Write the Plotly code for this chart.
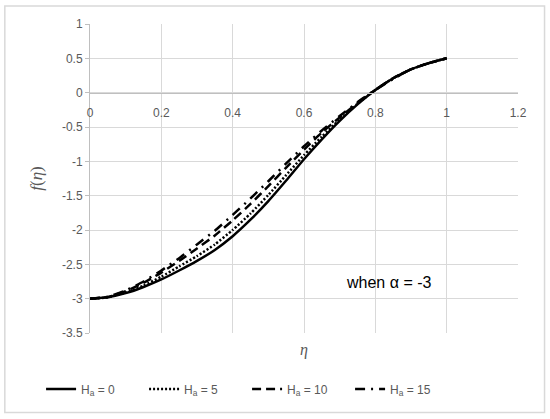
import plotly.graph_objects as go

# --- data (f(eta) for alpha = -3) ---
eta = [0.00, 0.05, 0.10, 0.15, 0.20, 0.25, 0.30, 0.35, 0.40, 0.45, 0.50,
       0.55, 0.60, 0.65, 0.70, 0.75, 0.80, 0.85, 0.90, 0.95, 1.00]

f_ha0 = [-3.00, -2.98, -2.92, -2.83, -2.72, -2.59, -2.45, -2.29, -2.09, -1.85, -1.58,
         -1.28, -0.97, -0.68, -0.41, -0.17, 0.04, 0.21, 0.34, 0.43, 0.50]
f_ha5 = [-3.00, -2.98, -2.91, -2.81, -2.68, -2.53, -2.38, -2.21, -2.00, -1.76, -1.49,
         -1.20, -0.91, -0.64, -0.39, -0.16, 0.04, 0.21, 0.34, 0.43, 0.50]
f_ha10 = [-3.00, -2.975, -2.89, -2.77, -2.62, -2.45, -2.27, -2.08, -1.86, -1.62, -1.36,
          -1.09, -0.83, -0.58, -0.36, -0.15, 0.04, 0.21, 0.34, 0.43, 0.50]
f_ha15 = [-3.00, -2.97, -2.88, -2.75, -2.59, -2.41, -2.21, -2.01, -1.78, -1.54, -1.29,
          -1.03, -0.78, -0.55, -0.34, -0.14, 0.04, 0.20, 0.34, 0.43, 0.50]

series_names = ["H<sub>a</sub> = 0", "H<sub>a</sub> = 5", "H<sub>a</sub> = 10", "H<sub>a</sub> = 15"]

x_ticks = [0, 0.2, 0.4, 0.6, 0.8, 1.0, 1.2]
x_ticktext = ["0", "0.2", "0.4", "0.6", "0.8", "1", "1.2"]
y_ticks = [1, 0.5, 0, -0.5, -1, -1.5, -2, -2.5, -3, -3.5]
y_ticktext = ["1", "0.5", "0", "-0.5", "-1", "-1.5", "-2", "-2.5", "-3", "-3.5"]

GRID = "#d9d9d9"
TXT = "#595959"

# 선 스타일: 실선, 점선, 파선, 일점쇄선
styles = ["solid", "2px,2px", "9px,5px", "10px,6px,2px,6px"]

fig = go.Figure()
for name, ys, dash in zip(series_names, [f_ha0, f_ha5, f_ha10, f_ha15], styles):
    fig.add_trace(go.Scatter(
        x=eta, y=ys, mode="lines", name=name,
        line=dict(color="black", width=2.5, dash=dash, shape="spline", smoothing=0.5),
    ))

fig.add_annotation(x=0.838, y=-2.76, xref="x", yref="y", text="when α = -3",
                   showarrow=False, font=dict(size=16, color="black"))

# x축 제목 (축이 y=0에 걸려 있으므로 주석으로 처리)
fig.add_annotation(x=0.5, y=-0.02, xref="paper", yref="paper", text="<i>η</i>",
                   showarrow=False, yanchor="top",
                   font=dict(family="Liberation Serif", size=16, color=TXT))

# 바깥 테두리
fig.add_shape(type="rect", xref="paper", yref="paper",
              x0=-0.199, x1=1.062, y0=-0.257, y1=1.058,
              line=dict(color=GRID, width=1.5), layer="below")

fig.update_layout(
    width=550, height=419,
    margin=dict(l=90, r=32, t=24, b=86),
    paper_bgcolor="white", plot_bgcolor="white",
    font=dict(family="Liberation Sans", size=12, color=TXT),
    showlegend=True,
    legend=dict(orientation="h", x=0.367, xanchor="center", y=-0.181, yanchor="middle",
                entrywidth=58, entrywidthmode="pixels",
                font=dict(size=12, color=TXT), bgcolor="rgba(0,0,0,0)"),
    xaxis=dict(
        range=[0, 1.2], tickvals=x_ticks, ticktext=x_ticktext,
        showgrid=True, gridcolor=GRID, gridwidth=1,
        zeroline=False, showline=True, linecolor="#bfbfbf", linewidth=1,
        anchor="free", position=3.5 / 4.5, ticks="", ticklabelstandoff=9,
        mirror=False,
    ),
    yaxis=dict(
        range=[-3.5, 1], tickvals=y_ticks, ticktext=y_ticktext,
        showgrid=True, gridcolor=GRID, gridwidth=1,
        zeroline=False, showline=True, linecolor="#bfbfbf", linewidth=1,
        ticks="outside", ticklen=4, tickcolor="#bfbfbf",
        title=dict(text="<i>f</i>(<i>η</i>)", standoff=14,
                   font=dict(family="Liberation Serif", size=17, color=TXT)),
    ),
)

fig.write_html("out.html", config={"displayModeBar": False},
               post_script="document.body.style.margin='0';")
